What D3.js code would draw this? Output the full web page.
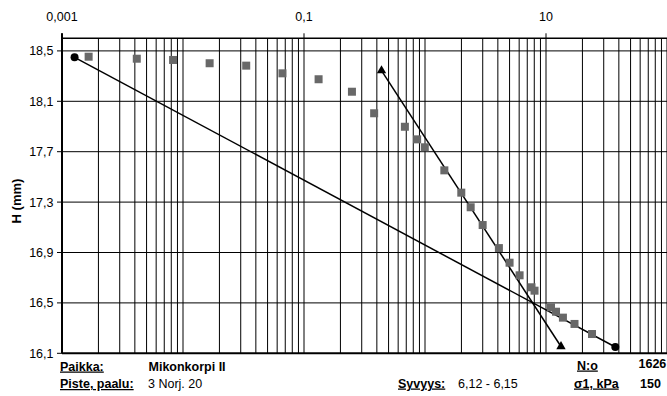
<!DOCTYPE html>
<html>
<head>
<meta charset="utf-8">
<script src="https://cdn.jsdelivr.net/npm/d3@7"></script>
<style>
  html, body { margin: 0; padding: 0; background: #fff; }
  svg { display: block; font-family: "Liberation Sans", Arial, sans-serif; }
</style>
</head>
<body>
<svg id="chart" width="667" height="396"></svg>
<script>
// Time (h) and specimen height H (mm) readings
const timeH = [0.00166, 0.00415, 0.00828, 0.0166, 0.0333, 0.0664, 0.132,
  0.249, 0.380, 0.682, 0.861, 0.996, 1.445, 1.995, 2.385, 2.996, 4.08,
  5.0, 6.05, 7.59, 8.04, 11.0, 12.1, 13.8, 17.2, 24.0];
const heightMm = [18.454, 18.438, 18.428, 18.402, 18.383, 18.322, 18.275,
  18.176, 18.005, 17.898, 17.798, 17.735, 17.552, 17.375, 17.259, 17.118, 16.935,
  16.819, 16.719, 16.624, 16.597, 16.465, 16.430, 16.383, 16.333, 16.253];

// Fitted construction lines (end points)
const lineCircleT = [0.00127, 37.4];
const lineCircleH = [18.449, 16.150];
const lineTriT = [0.437, 13.3];
const lineTriH = [18.344, 16.154];

// Axis ticks
const xTickValues = [0.001, 0.1, 10];
const xTickLabels = ["0,001", "0,1", "10"];
const yTickValues = [16.1, 16.5, 16.9, 17.3, 17.7, 18.1, 18.5];
const yTickLabels = ["16,1", "16,5", "16,9", "17,3", "17,7", "18,1", "18,5"];

// Info block below the chart
const infoLabels = ["Paikka:", "Piste, paalu:", "Syvyys:", "N:o", "σ1, kPa"];
const infoValues = ["Mikonkorpi II", "3 Norj. 20", "6,12 - 6,15", "1626", "150"];

const svg = d3.select("#chart");
const L = 62, R = 667, T = 38.3, B = 353.3;

const x = d3.scaleLog().domain([0.001, 100]).range([L, R]);
const y = d3.scaleLinear().domain([16.1, 18.6]).range([B, T]);

// vertical grid: 1..9 per decade
svg.append("g").selectAll("line")
  .data(x.ticks().filter(d => d > 0.001 * 1.0001))
  .join("line")
  .attr("x1", d => x(d)).attr("x2", d => x(d))
  .attr("y1", T).attr("y2", B)
  .attr("stroke", "#000").attr("stroke-width", 1);

// horizontal grid
svg.append("g").selectAll("line")
  .data(yTickValues.filter(d => d > 16.1))
  .join("line")
  .attr("x1", L).attr("x2", R)
  .attr("y1", d => y(d)).attr("y2", d => y(d))
  .attr("stroke", "#000").attr("stroke-width", 1);

// frame: top border, bottom axis, left axis
svg.append("line").attr("x1", L).attr("x2", R).attr("y1", T).attr("y2", T)
  .attr("stroke", "#000").attr("stroke-width", 1.5);
svg.append("line").attr("x1", L).attr("x2", R).attr("y1", B).attr("y2", B)
  .attr("stroke", "#000").attr("stroke-width", 2);
svg.append("line").attr("x1", L).attr("x2", L).attr("y1", T - 5).attr("y2", B)
  .attr("stroke", "#000").attr("stroke-width", 2);

// top axis ticks & labels
const xt = svg.append("g");
xt.selectAll("line").data(xTickValues).join("line")
  .attr("x1", d => x(d)).attr("x2", d => x(d))
  .attr("y1", T - 5).attr("y2", T)
  .attr("stroke", "#000").attr("stroke-width", 1);
xt.selectAll("text").data(xTickValues).join("text")
  .attr("x", d => x(d)).attr("y", 20.7)
  .attr("text-anchor", "middle")
  .attr("font-size", 12.5)
  .text((d, i) => xTickLabels[i]);

// left axis ticks & labels
const yt = svg.append("g");
yt.selectAll("line").data(yTickValues).join("line")
  .attr("x1", L - 5).attr("x2", L)
  .attr("y1", d => y(d)).attr("y2", d => y(d))
  .attr("stroke", "#000").attr("stroke-width", 1);
yt.selectAll("text").data(yTickValues).join("text")
  .attr("x", 53.5).attr("y", d => y(d)).attr("dy", "0.36em")
  .attr("text-anchor", "end")
  .attr("font-size", 12.5)
  .text((d, i) => yTickLabels[i]);

svg.append("text")
  .attr("transform", "translate(21,201) rotate(-90)")
  .attr("text-anchor", "middle")
  .attr("font-size", 13).attr("font-weight", "bold")
  .text("H (mm)");

// construction lines
const lineGen = d3.line().x(d => x(d[0])).y(d => y(d[1]));
const circPts = lineCircleT.map((t, i) => [t, lineCircleH[i]]);
const triPts = lineTriT.map((t, i) => [t, lineTriH[i]]);
svg.append("path").attr("d", lineGen(circPts))
  .attr("fill", "none").attr("stroke", "#000").attr("stroke-width", 1.5);
svg.append("path").attr("d", lineGen(triPts))
  .attr("fill", "none").attr("stroke", "#000").attr("stroke-width", 1.5);

// measured readings
svg.append("g").selectAll("rect")
  .data(timeH.map((t, i) => [t, heightMm[i]]))
  .join("rect")
  .attr("x", d => x(d[0]) - 4).attr("y", d => y(d[1]) - 4)
  .attr("width", 8).attr("height", 8)
  .attr("fill", "#686868");

svg.append("g").selectAll("circle").data(circPts).join("circle")
  .attr("cx", d => x(d[0])).attr("cy", d => y(d[1])).attr("r", 4)
  .attr("fill", "#000");
svg.append("g").selectAll("path").data(triPts).join("path")
  .attr("transform", d => `translate(${x(d[0])},${y(d[1])})`)
  .attr("d", d3.symbol(d3.symbolTriangle, 38))
  .attr("fill", "#000");

// info block
const info = svg.append("g").attr("font-size", 12.5);
const lab = (txt, px, py) => info.append("text").attr("x", px).attr("y", py)
  .attr("font-weight", "bold").attr("text-decoration", "underline").text(txt);
const val = (txt, px, py, bold) => info.append("text").attr("x", px).attr("y", py)
  .attr("font-weight", bold ? "bold" : "normal").text(txt);
lab(infoLabels[0], 60, 370.5);
val(infoValues[0], 148.5, 370.5, true);
lab(infoLabels[1], 60, 388);
val(infoValues[1], 148, 388, false);
lab(infoLabels[2], 398, 387.5);
val(infoValues[2], 458, 387.5, false);
lab(infoLabels[3], 577, 369.5);
val(infoValues[3], 638.5, 367.5, true);
lab(infoLabels[4], 574, 387.5);
val(infoValues[4], 640, 387.5, true);
</script>
</body>
</html>
